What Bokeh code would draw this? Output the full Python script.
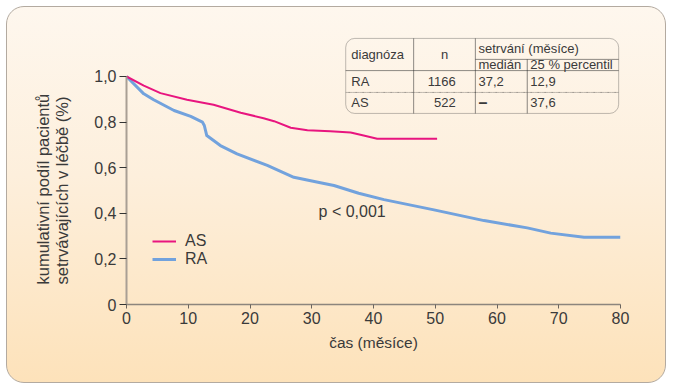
from bokeh.plotting import figure
from bokeh.models import Range1d, FixedTicker, Label, BoxAnnotation, Legend, LegendItem, Title
from bokeh.embed import file_html
from bokeh.resources import INLINE

# ---- data ----
as_months = [0, 2.8, 5.5, 9.8, 14.1, 18.5, 22.2, 23.9, 26.6, 29.3, 33.0, 36.3, 38.4, 40.6, 45.0, 50.3]
as_surv = [1.0, 0.96, 0.927, 0.898, 0.876, 0.841, 0.817, 0.804, 0.775, 0.764, 0.760, 0.754, 0.741, 0.727, 0.727, 0.727]

ra_months = [0, 2.8, 4.4, 7.7, 10.4, 12.3, 12.6, 13.0, 15.2, 17.9, 22.8, 27.1, 31.4, 33.6, 37.6, 41.7,
             49.8, 57.9, 64.9, 68.7, 74.1, 80.0]
ra_surv = [1.0, 0.924, 0.898, 0.851, 0.825, 0.80, 0.785, 0.741, 0.697, 0.661, 0.610, 0.558, 0.534, 0.522,
           0.488, 0.46, 0.415, 0.368, 0.336, 0.313, 0.295, 0.295]

x_ticks = [0, 10, 20, 30, 40, 50, 60, 70, 80]
y_ticks = [0, 0.2, 0.4, 0.6, 0.8, 1.0]
y_tick_labels = ["0", "0,2", "0,4", "0,6", "0,8", "1,0"]

x_title = "čas (měsíce)"
y_title = "kumulativní podíl pacientů\nsetrvávajících v léčbě (%)"
series_names = ["AS", "RA"]
p_text = "p < 0,001"

table_head = ["diagnóza", "n", "setrvání (měsíce)", "medián", "25 % percentil"]
table_diag = ["RA", "AS"]
table_n = ["1166", "522"]
table_median = ["37,2", "–"]
table_p25 = ["12,9", "37,6"]

# ---- style ----
FONT = "Liberation Sans"
TXT = "#3a3a3a"
PINK = "#e8157f"
BLUE = "#72a2dd"
Y_TOP = 1.1754  # extra room above the axis for the table

p = figure(width=660, height=377, x_range=Range1d(0, 80), y_range=Range1d(0, Y_TOP),
           output_backend="svg", toolbar_location=None,
           min_border_left=119, min_border_right=47, min_border_top=29, min_border_bottom=80)
p.styles = {"background": "linear-gradient(180deg, #fef7ee 0%, #fdefdc 45%, #fde2ba 100%)",
            "border": "1px solid #b3aaa0", "border-radius": "18px", "margin": "6px"}
p.background_fill_alpha = 0
p.border_fill_alpha = 0
p.outline_line_color = None
p.grid.visible = False

r_ra = p.line(ra_months, ra_surv, line_color=BLUE, line_width=3, line_join="round")
r_as = p.line(as_months, as_surv, line_color=PINK, line_width=2, line_join="round")

xa = p.xaxis[0]
xa.ticker = FixedTicker(ticks=x_ticks)
xa.axis_label = x_title
xa.axis_line_color = "#8c857d"
xa.axis_line_width = 1.5
xa.major_tick_line_color = "#6b655f"
xa.major_tick_out = 4
xa.major_tick_in = 0
xa.minor_tick_line_color = None
xa.major_label_standoff = 3
xa.axis_label_standoff = 7

ya = p.yaxis[0]
ya.ticker = FixedTicker(ticks=y_ticks)
ya.bounds = (0, 1)
ya.major_label_overrides = {t: l for t, l in zip(y_ticks, y_tick_labels)}
ya.axis_line_color = "#a99f94"
ya.axis_line_width = 2
ya.major_tick_line_color = "#333333"
ya.major_tick_out = 7
ya.major_tick_in = 0
ya.minor_tick_line_color = None
ya.major_label_standoff = 3

for ax in (xa, ya):
    ax.major_label_text_font = FONT
    ax.major_label_text_font_size = "16px"
    ax.major_label_text_color = TXT
    ax.axis_label_text_font = FONT
    ax.axis_label_text_font_size = "15.5px"
    ax.axis_label_text_font_style = "normal"
    ax.axis_label_text_color = TXT

# y-axis title: two lines, centred on the 0..1 part of the axis
p.add_layout(Title(text=y_title, align="left", offset=20, standoff=40,
                   text_font=FONT, text_font_size="16.5px", text_font_style="normal",
                   text_line_height=1.1, text_color=TXT), "left")

legend = Legend(items=[LegendItem(label=series_names[0], renderers=[r_as]),
                       LegendItem(label=series_names[1], renderers=[r_ra])],
                location=(26, 36), glyph_width=24, glyph_height=14, label_height=14,
                label_standoff=9, spacing=-1, padding=0, margin=0,
                background_fill_alpha=0, border_line_color=None,
                label_text_font=FONT, label_text_font_size="16px", label_text_color=TXT)
p.add_layout(legend)

p.add_layout(Label(x=31.1, y=0.41, text=p_text, text_font=FONT, text_font_size="16px",
                   text_color=TXT, text_baseline="middle", text_align="left"))

# ---- table (layout positions in data units) ----
tl, tr, c1, c2, c3 = 35.5, 79.7, 46.5, 56.5, 64.9
tt, h1, h2, hd, tb = 1.167, 1.075, 1.026, 0.930, 0.838
LC = "#2b2b2b"
p.add_layout(BoxAnnotation(left=tl, right=tr, top=tt, bottom=tb, fill_color=None,
                           line_color=LC, line_width=1, border_radius=9))

def hline(y, x0, x1, dash="solid"):
    p.add_layout(BoxAnnotation(left=x0, right=x1, top=y, bottom=y, fill_color=None,
                               line_color=LC, line_width=1, line_dash=dash))

def vline(x, y0, y1):
    p.add_layout(BoxAnnotation(left=x, right=x, top=y1, bottom=y0, fill_color=None,
                               line_color=LC, line_width=1))

hline(h1, c2, tr)
hline(h2, tl, tr)
hline(hd, tl, tr, "4 3")
vline(c1, tb, tt)
vline(c2, tb, tt)
vline(c3, tb, h1)

def txt(x, y, s, align="left", style="normal", size="13px"):
    p.add_layout(Label(x=x, y=y, text=s, text_font=FONT, text_font_size=size,
                       text_font_style=style,
                       text_color=TXT, text_baseline="middle", text_align=align))

txt(36.4, (tt + h2) / 2, table_head[0])
txt((c1 + c2) / 2, (tt + h2) / 2, table_head[1], "center")
txt(57.0, (tt + h1) / 2, table_head[2])
txt(57.0, (h1 + h2) / 2, table_head[3])
txt(65.4, (h1 + h2) / 2, table_head[4])
rows_y = [(h2 + hd) / 2, (hd + tb) / 2]
for i, ry in enumerate(rows_y):
    txt(36.4, ry, table_diag[i])
    txt(53.3, ry, table_n[i], "right")
    if table_median[i] == "–":
        txt(57.0, ry, table_median[i], style="bold", size="16px")
    else:
        txt(57.0, ry, table_median[i])
    txt(65.4, ry, table_p25[i])

open("out.html", "w").write(file_html(p, INLINE))
